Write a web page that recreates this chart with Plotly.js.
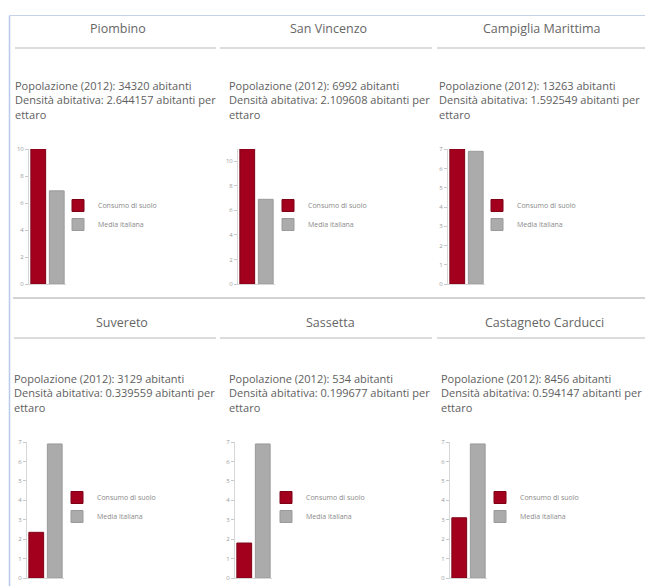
<!DOCTYPE html>
<html>
<head>
<meta charset="utf-8">
<script src="https://cdn.plot.ly/plotly-3.0.1.min.js"></script>
<style>
  html, body { margin: 0; padding: 0; background: #fff; }
  #chart { width: 645px; height: 586px; }
</style>
</head>
<body>
<div id="chart"></div>
<script>
// ---- Data ----
const comuni = ["Piombino", "San Vincenzo", "Campiglia Marittima", "Suvereto", "Sassetta", "Castagneto Carducci"];
const popolazione = [34320, 6992, 13263, 3129, 534, 8456];
const densita = ["2.644157", "2.109608", "1.592549", "0.339559", "0.199677", "0.594147"];
const consumoSuolo = [10.0, 11.0, 7.02, 2.35, 1.8, 3.1];
const mediaItaliana = [6.9, 6.9, 6.9, 6.9, 6.9, 6.9];
const serieNomi = ["Consumo di suolo", "Media italiana"];

// ---- Layout helpers (pixel -> paper) ----
const W = 645, H = 586;
const px = x => x / W;
const py = y => 1 - y / H;

// panel geometry (pixels)
const axisX = [[29, 66], [238, 275], [448, 485], [27, 64], [235, 272], [450, 487]];
const axisY = [[149, 284], [149, 284], [149, 284], [442, 578], [442, 578], [442, 578]];
const yMax = [10, 11, 7.02, 7, 7, 7];
const yDtick = [2, 2, 1, 1, 1, 1];
const titleX = [118, 328, 542, 122, 330, 544];
const titleY = [29, 29, 29, 322, 322, 322];
const textX = [13, 227, 437, 12, 227, 439];
const textY0 = [85, 85, 85, 378, 378, 378];
const legendPos = [[58, 191], [268, 191], [477, 191], [57, 483], [266, 483], [480, 483]];
const sepRows = [48, 48, 48, 338, 338, 338];
const sepX = [[15, 216], [220, 432], [437, 645], [14, 216], [220, 432], [437, 645]];

const traces = [];
const layout = {
  width: W, height: H,
  margin: {l: 0, r: 0, t: 0, b: 0},
  paper_bgcolor: "#ffffff",
  plot_bgcolor: "#ffffff",
  font: {family: "Open Sans, sans-serif", color: "#555"},
  barmode: "overlay",
  bargap: 0.2,
  annotations: [],
  shapes: []
};

comuni.forEach((nome, i) => {
  const n = i + 1;
  const xa = n === 1 ? "x" : "x" + n;
  const ya = n === 1 ? "y" : "y" + n;
  const lg = n === 1 ? "legend" : "legend" + n;

  traces.push({
    type: "bar", x: [serieNomi[0]], y: [consumoSuolo[i]], name: serieNomi[0],
    xaxis: xa, yaxis: ya, legend: lg,
    marker: {color: "#a3001e", line: {color: "#7d0017", width: 1}},
    hoverinfo: "y"
  });
  traces.push({
    type: "bar", x: [serieNomi[1]], y: [mediaItaliana[i]], name: serieNomi[1],
    xaxis: xa, yaxis: ya, legend: lg,
    marker: {color: "#ababab", line: {color: "#9a9a9a", width: 1}},
    hoverinfo: "y"
  });

  const xk = n === 1 ? "xaxis" : "xaxis" + n;
  const yk = n === 1 ? "yaxis" : "yaxis" + n;
  layout[xk] = {
    domain: [px(axisX[i][0]), px(axisX[i][1])],
    anchor: ya,
    type: "category",
    range: [-0.5, 1.5],
    showticklabels: false,
    ticks: "",
    showgrid: false,
    zeroline: false,
    showline: true, linecolor: "#d6d6d6", linewidth: 1,
    fixedrange: true
  };
  layout[yk] = {
    domain: [py(axisY[i][1]), py(axisY[i][0])],
    anchor: xa,
    range: [0, yMax[i]],
    dtick: yDtick[i], tick0: 0,
    showgrid: false,
    zeroline: false,
    showline: true, linecolor: "#d6d6d6", linewidth: 1,
    ticks: "outside", ticklen: 3, tickcolor: "#c8c8c8",
    tickfont: {size: 6, color: "#9a9a9a"},
    fixedrange: true
  };
  layout[lg] = {
    x: px(legendPos[i][0]), y: py(legendPos[i][1]),
    xanchor: "left", yanchor: "top",
    bgcolor: "rgba(0,0,0,0)",
    font: {size: 7, color: "#8a8a8a", family: "Open Sans, sans-serif"},
    itemclick: false, itemdoubleclick: false,
    traceorder: "normal"
  };

  // panel title
  layout.annotations.push({
    text: nome, xref: "paper", yref: "paper",
    x: px(titleX[i]), y: py(titleY[i]), xanchor: "center", yanchor: "middle",
    showarrow: false, font: {size: 12.5, color: "#666"}
  });
  // info text (three lines)
  const righe = [
    "Popolazione (2012): " + popolazione[i] + " abitanti",
    "Densità abitativa: " + densita[i] + " abitanti per",
    "ettaro"
  ];
  righe.forEach((r, k) => {
    layout.annotations.push({
      text: r, xref: "paper", yref: "paper",
      x: px(textX[i]), y: py(textY0[i] + k * 14.5), xanchor: "left", yanchor: "middle",
      showarrow: false, font: {size: 11, color: "#5e5e5e"}
    });
  });
  // separator under the title
  layout.shapes.push({
    type: "line", xref: "paper", yref: "paper",
    x0: px(sepX[i][0]), x1: px(sepX[i][1]), y0: py(sepRows[i]), y1: py(sepRows[i]),
    line: {color: "#dcdcdc", width: 2}
  });
});

// page frame lines
layout.shapes.push({type: "line", xref: "paper", yref: "paper",
  x0: px(9.5), x1: px(645), y0: py(15.5), y1: py(15.5), line: {color: "#c5d3ea", width: 1}});
layout.shapes.push({type: "line", xref: "paper", yref: "paper",
  x0: px(9.5), x1: px(9.5), y0: py(15.5), y1: py(586), line: {color: "#b9cbea", width: 1.5}});
layout.shapes.push({type: "line", xref: "paper", yref: "paper",
  x0: px(13), x1: px(645), y0: py(298), y1: py(298), line: {color: "#c4c4c4", width: 1.5}});

Plotly.newPlot("chart", traces, layout, {displayModeBar: false, staticPlot: true});
</script>
</body>
</html>
